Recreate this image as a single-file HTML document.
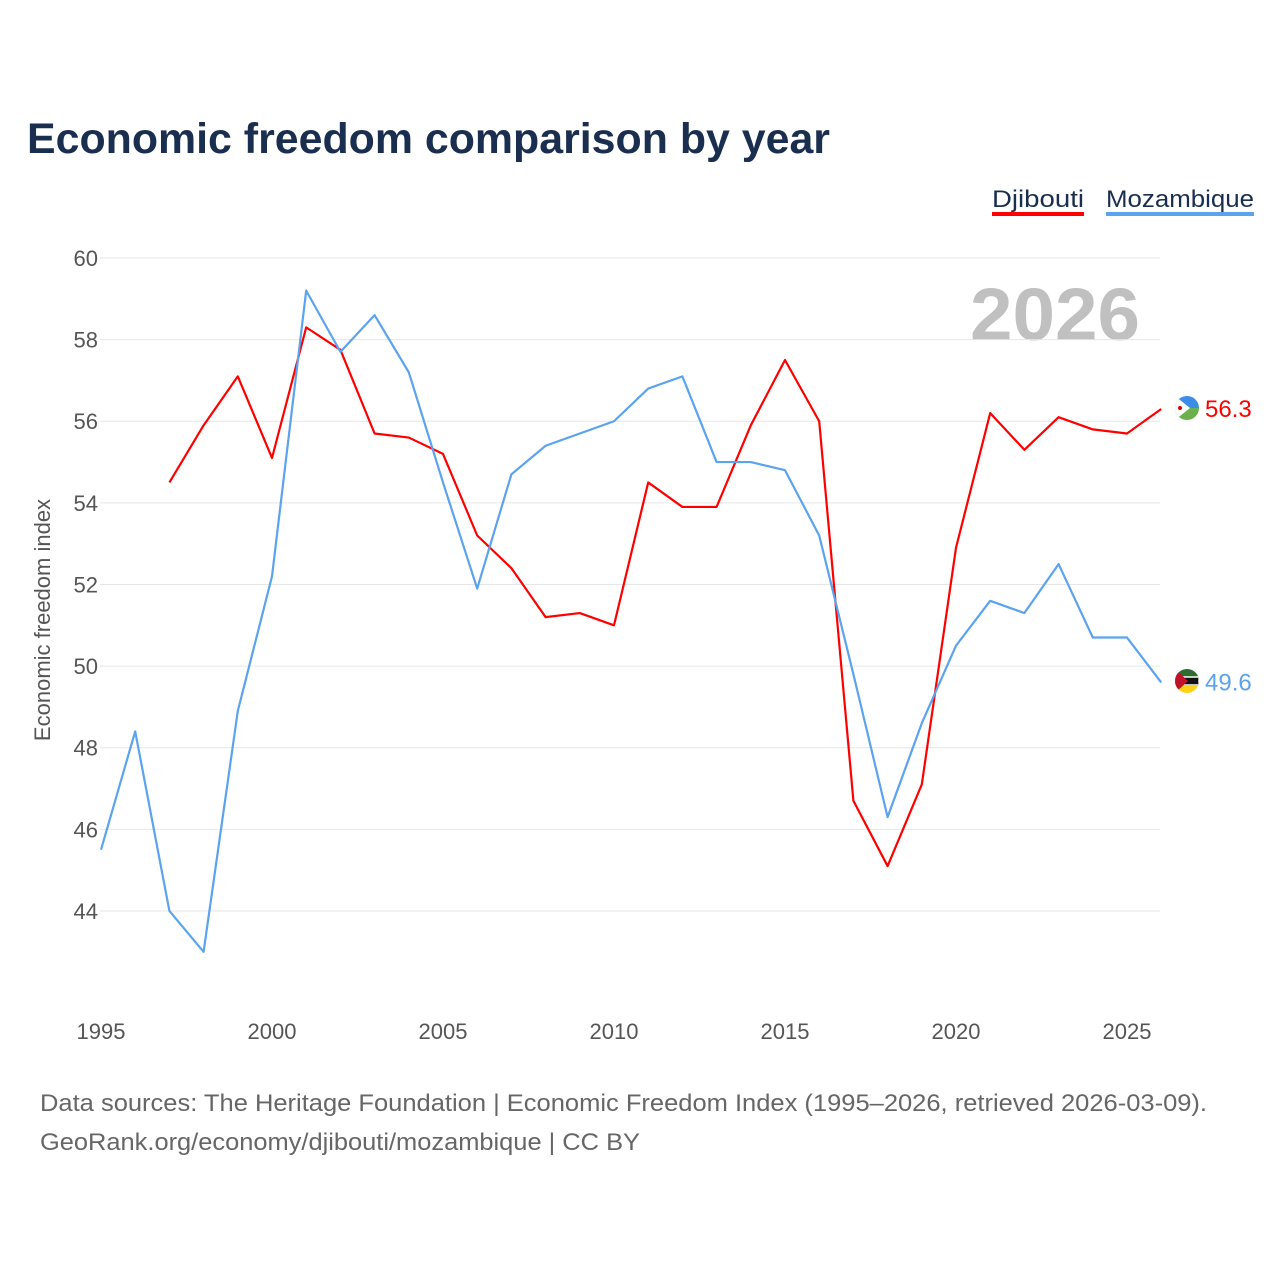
<!DOCTYPE html>
<html><head><meta charset="utf-8"><style>
body{margin:0;background:#fff;width:1280px;height:1280px;overflow:hidden;font-family:"Liberation Sans",sans-serif;}
</style></head><body>
<svg width="1280" height="1280" id="chart" xmlns="http://www.w3.org/2000/svg">
<defs>
<clipPath id="clipD"><circle cx="1187" cy="408" r="12"/></clipPath>
<clipPath id="clipM"><circle cx="1187" cy="681" r="12"/></clipPath>
</defs>
<text x="27" y="153" font-size="43" font-weight="bold" fill="#1a2e4f" textLength="803" lengthAdjust="spacingAndGlyphs">Economic freedom comparison by year</text>
<g>
<text x="992" y="207" font-size="24" fill="#1a2e4f" textLength="92" lengthAdjust="spacingAndGlyphs">Djibouti</text>
<rect x="992" y="212" width="92" height="4" fill="#ff0000"/>
<text x="1106" y="207" font-size="24" fill="#1a2e4f" textLength="148" lengthAdjust="spacingAndGlyphs">Mozambique</text>
<rect x="1106" y="212" width="148" height="4" fill="#5ba3ee"/>
</g>
<text x="1140" y="340" font-size="74" font-weight="bold" fill="#c0c0c0" text-anchor="end" textLength="170" lengthAdjust="spacingAndGlyphs">2026</text>
<g id="grid"></g>
<g id="yticks"></g>
<g id="xticks"></g>
<text transform="translate(50,620) rotate(-90)" font-size="22" fill="#555" text-anchor="middle">Economic freedom index</text>
<g id="series"></g>
<g clip-path="url(#clipD)">
<rect x="1175" y="396" width="24" height="12" fill="#3b8ee8"/>
<rect x="1175" y="408" width="24" height="12" fill="#6ab04c"/>
<polygon points="1175,396 1190,408 1175,420" fill="#fff"/>
<circle cx="1180" cy="408" r="2" fill="#d00"/>
</g>
<g clip-path="url(#clipM)">
<rect x="1175" y="669" width="24" height="8" fill="#2f6b2f"/>
<rect x="1175" y="677" width="24" height="8" fill="#111" stroke="#fff" stroke-width="1.5"/>
<rect x="1175" y="685" width="24" height="8" fill="#fcd116"/>
<polygon points="1175,669 1188,681 1175,693" fill="#c0102a"/>
</g>
<text x="40" y="1111" font-size="24" fill="#666" textLength="1167" lengthAdjust="spacingAndGlyphs">Data sources: The Heritage Foundation | Economic Freedom Index (1995–2026, retrieved 2026-03-09).</text>
<text x="40" y="1150" font-size="24" fill="#666" textLength="600" lengthAdjust="spacingAndGlyphs">GeoRank.org/economy/djibouti/mozambique | CC BY</text>
</svg>
<script>
const years=[1995,1996,1997,1998,1999,2000,2001,2002,2003,2004,2005,2006,2007,2008,2009,2010,2011,2012,2013,2014,2015,2016,2017,2018,2019,2020,2021,2022,2023,2024,2025,2026];
const djibouti=[null,null,54.5,55.9,57.1,55.1,58.3,57.75,55.7,55.6,55.2,53.2,52.4,51.2,51.3,51.0,54.5,53.9,53.9,55.9,57.5,56.0,46.7,45.1,47.1,52.9,56.2,55.3,56.1,55.8,55.7,56.3];
const mozambique=[45.5,48.4,44.0,43.0,48.9,52.2,59.2,57.7,58.6,57.2,54.5,51.9,54.7,55.4,55.7,56.0,56.8,57.1,55.0,55.0,54.8,53.2,49.8,46.3,48.6,50.5,51.6,51.3,52.5,50.7,50.7,49.6];
const yTicks=[44,46,48,50,52,54,56,58,60];
const xTicks=[1995,2000,2005,2010,2015,2020,2025];
const NS="http://www.w3.org/2000/svg";
const xs=y=>101+(y-1995)*34.2;
const ys=v=>258+(60-v)*40.81;
function mk(t,a,p){const e=document.createElementNS(NS,t);for(const k in a)e.setAttribute(k,a[k]);p.appendChild(e);return e;}
const grid=document.getElementById('grid'),yt=document.getElementById('yticks'),xt=document.getElementById('xticks'),ser=document.getElementById('series');
yTicks.forEach(v=>{
 const l=mk('line',{x1:100,x2:1160,y1:ys(v),y2:ys(v),stroke:'#e6e6e6','stroke-width':1},grid);
 
 
 const t=mk('text',{x:98,y:ys(v)+8,'font-size':22,fill:'#555','text-anchor':'end'},yt);
 t.textContent=v;
 
 
});
xTicks.forEach(v=>{
 const t=mk('text',{x:xs(v),y:1039,'font-size':22,fill:'#555','text-anchor':'middle'},xt);
 t.textContent=v;
 
 
});
function line(vals,color,name){
 let d='';let started=false;
 vals.forEach((v,i)=>{if(v==null)return;d+=(started?'L':'M')+xs(years[i])+','+ys(v);started=true;});
 const p=mk('path',{d:d,fill:'none',stroke:color,'stroke-width':2.2,'stroke-linejoin':'round'},ser);
 
 
 const last=vals[vals.length-1];
 const t=mk('text',{x:1205,y:ys(last)+8,'font-size':24,fill:color},ser);
 t.textContent=last.toFixed(1);
 
 
}
line(djibouti,'#ff0000','djibouti');
line(mozambique,'#5ba3ee','mozambique');
</script>
</body></html>
